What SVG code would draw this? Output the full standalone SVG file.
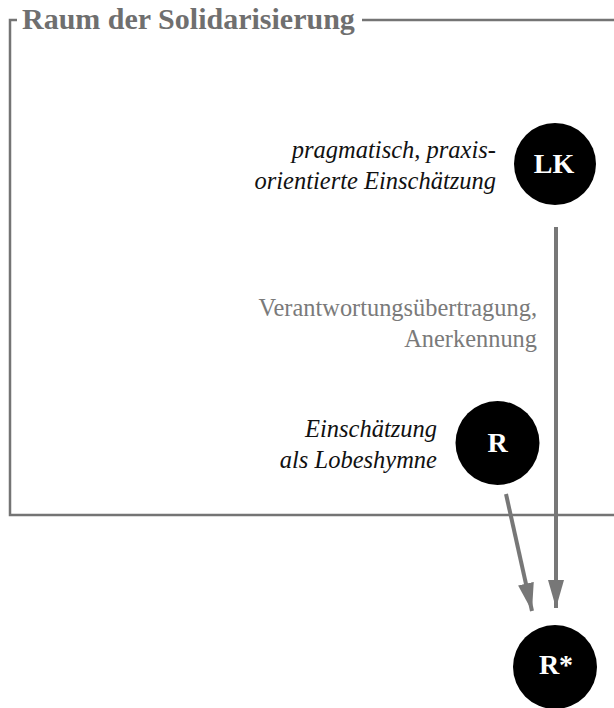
<svg xmlns="http://www.w3.org/2000/svg" width="614" height="708" viewBox="0 0 614 708">
<style>
.frame{fill:none;stroke:#747474;stroke-width:2.5}
.title{font-family:"Liberation Serif",serif;font-weight:bold;font-size:30px;fill:#6f6f6f}
.it{font-family:"Liberation Serif",serif;font-style:italic;font-size:24.5px;fill:#111;text-anchor:end}
.gray{font-family:"Liberation Serif",serif;font-size:24.4px;fill:#7a7a7a;text-anchor:end}
.node{fill:#000}
.nl{font-family:"Liberation Serif",serif;font-weight:bold;font-size:28px;fill:#fff;text-anchor:middle}
.conn{stroke:#777;stroke-width:4;fill:none}
</style>
<defs>
<marker id="arr" viewBox="0 0 28 16" refX="28" refY="8" markerWidth="28" markerHeight="16" markerUnits="userSpaceOnUse" orient="auto">
<path d="M0,0 L28,8 L0,16 Z" fill="#777"/>
</marker>
</defs>
<g id="frame">
<path class="frame" d="M17,20 H10 V515 H614"/>
<path class="frame" d="M362,20 H614"/>
<text class="title" x="22" y="29">Raum der Solidarisierung</text>
</g>
<g id="connectors">
<line class="conn" x1="556" y1="227" x2="556" y2="608" marker-end="url(#arr)"/>
<line class="conn" x1="506" y1="494" x2="532" y2="611" marker-end="url(#arr)"/>
</g>
<g id="label-edge">
<text class="gray" x="537" y="316">Verantwortungsübertragung,</text>
<text class="gray" x="537" y="347">Anerkennung</text>
</g>
<g id="node-LK">
<circle class="node" cx="555" cy="164" r="41"/>
<text class="nl" x="554" y="173">LK</text>
<text class="it" x="496" y="158">pragmatisch, praxis-</text>
<text class="it" x="496" y="189">orientierte Einschätzung</text>
</g>
<g id="node-R">
<circle class="node" cx="497.5" cy="443" r="42"/>
<text class="nl" x="497.5" y="452">R</text>
<text class="it" x="437" y="437">Einschätzung</text>
<text class="it" x="437" y="468">als Lobeshymne</text>
</g>
<g id="node-Rstar">
<circle class="node" cx="555" cy="667" r="42"/>
<text class="nl" x="556" y="674">R*</text>
</g>
</svg>
